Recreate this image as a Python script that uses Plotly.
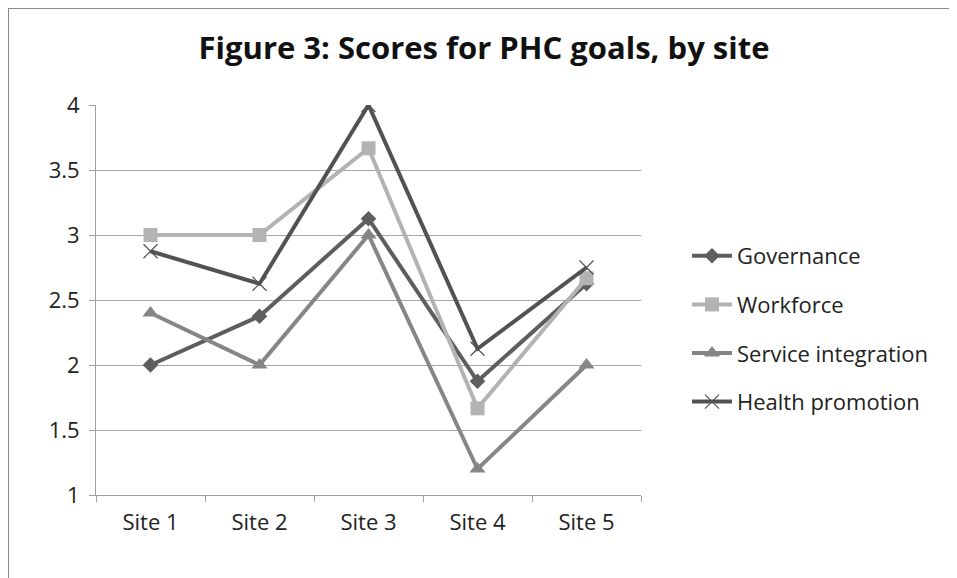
import plotly.graph_objects as go

sites = ["Site 1", "Site 2", "Site 3", "Site 4", "Site 5"]
governance = [2.0, 2.375, 3.125, 1.875, 2.625]
workforce = [3.0, 3.0, 3.667, 1.667, 2.667]
service_integration = [2.4, 2.0, 3.0, 1.2, 2.0]
health_promotion = [2.875, 2.625, 4.0, 2.125, 2.75]
y_ticks = [1, 1.5, 2, 2.5, 3, 3.5, 4]
y_labels = ["1", "1.5", "2", "2.5", "3", "3.5", "4"]

FONT = "Open Sans"
series = [
    ("Governance", governance, "#5e5e5e", "diamond", 12, 0),
    ("Workforce", workforce, "#b3b3b3", "square", 14, 0),
    ("Service integration", service_integration, "#868686", "triangle-up", 14, 0),
    ("Health promotion", health_promotion, "#525252", "x-thin", 14, 1.2),
]

fig = go.Figure()
for name, vals, col, sym, sz, mlw in series:
    fig.add_trace(go.Scatter(
        x=sites, y=vals, name=name, mode="lines+markers",
        line=dict(color=col, width=4),
        marker=dict(symbol=sym, size=sz, color=col, line=dict(color=col, width=mlw)),
        legendgroup=name,
    ))

# page body has an 8px margin, so figure coords = screen coords - 8
OFF = 8
L, T = 96 - OFF, 105 - OFF
pw, ph = 545, 390
W, H = 957, 578
R = W - L - pw
B = H - T - ph

fig.update_layout(
    width=W, height=H,
    margin=dict(l=L, r=R, t=T, b=B),
    paper_bgcolor="white", plot_bgcolor="white",
    font=dict(family=FONT, size=22, color="#222222"),
    title=dict(text="<b>Figure 3: Scores for PHC goals, by site</b>",
               x=(484 - OFF) / W, xanchor="center", y=1 - (48 - OFF) / H, yanchor="middle",
               font=dict(family=FONT, size=31, color="#111111")),
    showlegend=True,
    legend=dict(x=(679 - L) / pw, xanchor="left", y=1 - (235 - OFF - T) / ph, yanchor="top",
                font=dict(family=FONT, size=22, color="#222222"),
                tracegroupgap=17, itemwidth=40, bgcolor="rgba(0,0,0,0)"),
    xaxis=dict(type="category", range=[-0.5, 4.5], showgrid=False,
               showline=True, linecolor="#a0a0a0", linewidth=1,
               ticks="outside", ticklen=6, tickcolor="#a0a0a0", tickson="boundaries",
               ticklabelstandoff=8,
               tickfont=dict(size=22, color="#222222"), fixedrange=True),
    yaxis=dict(range=[1, 4], tickvals=y_ticks, ticktext=y_labels,
               showgrid=True, gridcolor="#a6a6a6", gridwidth=1,
               showline=True, linecolor="#a0a0a0", linewidth=1,
               ticks="outside", ticklen=6, tickcolor="#a0a0a0",
               ticklabelstandoff=5,
               tickfont=dict(size=22, color="#222222"), zeroline=False),
    shapes=[dict(type="rect", xref="paper", yref="paper",
                 x0=(0 - L) / pw, x1=(946 - L) / pw,
                 y0=1 + (T - 600) / ph, y1=1 + (T - 0) / ph,
                 line=dict(color="#8c8c8c", width=2), fillcolor="rgba(0,0,0,0)",
                 layer="below")],
)

fig.write_html("out.html")
